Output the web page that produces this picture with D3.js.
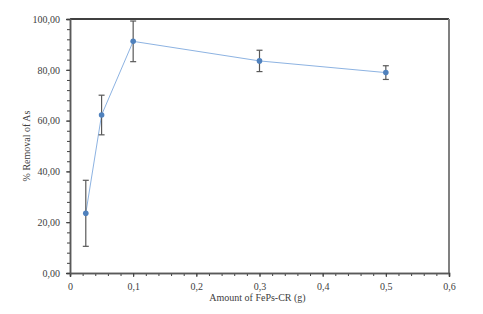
<!DOCTYPE html>
<html>
<head>
<meta charset="utf-8">
<script src="https://cdn.jsdelivr.net/npm/d3@7"></script>
<style>
body { margin: 0; background: #fff; }
svg text { font-family: "Liberation Serif", "Times New Roman", "DejaVu Serif", serif !important; fill: #404040; }
</style>
</head>
<body>
<script>
var width = 483,
    height = 314,
    margin = { top: 19, right: 34, bottom: 41, left: 70 };

// data
var amount = [0.025, 0.05, 0.1, 0.3, 0.5];
var removal = [23.5, 62.2, 91.2, 83.5, 78.9];
var errBar = [13, 7.8, 8, 4.2, 2.7];
var xTicks = [0, 0.1, 0.2, 0.3, 0.4, 0.5, 0.6];
var yTicks = [0, 20, 40, 60, 80, 100];

var svg = d3.select("body").append("svg")
    .attr("width", width)
    .attr("height", height);

var x = d3.scaleLinear().domain([0, 0.6]).range([margin.left, width - margin.right]);
var y = d3.scaleLinear().domain([0, 100]).range([height - margin.bottom, margin.top]);

var fmtX = function (d) { return d === 0 ? "0" : d3.format(".1f")(d).replace(".", ","); };
var fmtY = function (d) { return d3.format(".2f")(d).replace(".", ","); };

// frame: top black, right gray
svg.append("line")
    .attr("x1", x(0)).attr("x2", x(0.6))
    .attr("y1", y(100)).attr("y2", y(100))
    .attr("stroke", "#000").attr("stroke-width", 1.5);
svg.append("line")
    .attr("x1", x(0.6)).attr("x2", x(0.6))
    .attr("y1", y(100)).attr("y2", y(0))
    .attr("stroke", "#808080").attr("stroke-width", 2);

// minor ticks
var gx = svg.append("g").attr("transform", "translate(0," + y(0) + ")");
gx.call(d3.axisBottom(x).tickValues(d3.range(0, 0.601, 0.02)).tickSize(3).tickFormat(""));
var gy = svg.append("g").attr("transform", "translate(" + x(0) + ",0)");
gy.call(d3.axisLeft(y).tickValues(d3.range(0, 100.1, 4)).tickSize(3).tickFormat(""));

// major axes
var ax = svg.append("g").attr("transform", "translate(0," + y(0) + ")")
    .call(d3.axisBottom(x).tickValues(xTicks).tickSize(4).tickPadding(6).tickFormat(fmtX));
var ay = svg.append("g").attr("transform", "translate(" + x(0) + ",0)")
    .call(d3.axisLeft(y).tickValues(yTicks).tickSize(4).tickPadding(6).tickFormat(fmtY));

[gx, gy, ax, ay].forEach(function (g) {
    g.attr("font-family", null);
    g.select(".domain").attr("stroke", "#595959").attr("stroke-width", 1.5);
    g.selectAll(".tick line").attr("stroke", "#404040");
});
[ax, ay].forEach(function (g) {
    g.selectAll("text")
        .style("font-size", "10px")
        .attr("fill", "#404040");
});

var pts = amount.map(function (d, i) { return { x: d, y: removal[i], e: errBar[i] }; });

// connecting line
var line = d3.line()
    .x(function (d) { return x(d.x); })
    .y(function (d) { return y(d.y); });
svg.append("path")
    .attr("d", line(pts))
    .attr("fill", "none")
    .attr("stroke", "#8db3e2")
    .attr("stroke-width", 1);

// error bars
var eb = svg.append("g").attr("stroke", "#595959").attr("stroke-width", 1.2);
pts.forEach(function (d) {
    eb.append("line")
        .attr("x1", x(d.x)).attr("x2", x(d.x))
        .attr("y1", y(d.y - d.e)).attr("y2", y(d.y + d.e));
    [d.y - d.e, d.y + d.e].forEach(function (v) {
        eb.append("line")
            .attr("x1", x(d.x) - 3).attr("x2", x(d.x) + 3)
            .attr("y1", y(v)).attr("y2", y(v));
    });
});

// markers
svg.append("g").selectAll("circle")
    .data(pts)
    .enter().append("circle")
    .attr("cx", function (d) { return x(d.x); })
    .attr("cy", function (d) { return y(d.y); })
    .attr("r", 2.8)
    .attr("fill", "#4f81bd");

// titles
svg.append("text")
    .attr("x", (x(0) + x(0.6)) / 2 - 2)
    .attr("y", 301)
    .attr("text-anchor", "middle")
    .style("font-size", "10px")
    .text("Amount of  FePs-CR (g)");

svg.append("text")
    .attr("transform", "translate(30," + ((y(0) + y(100)) / 2) + ") rotate(-90)")
    .attr("text-anchor", "middle")
    .style("font-size", "10px")
    .text("% Removal of As");
</script>
</body>
</html>
